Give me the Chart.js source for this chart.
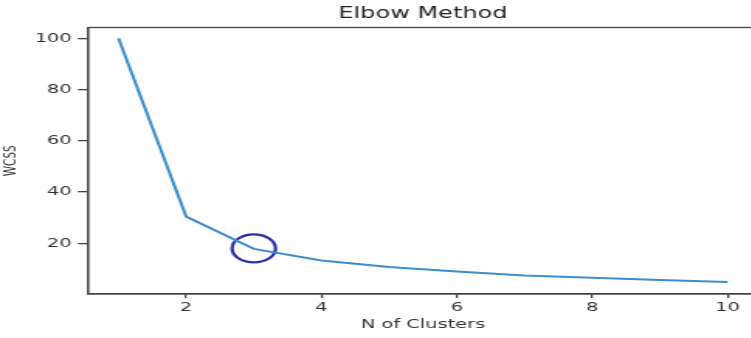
<!DOCTYPE html>
<html>
<head>
<meta charset="utf-8">
<script src="https://cdn.jsdelivr.net/npm/chart.js@4.4.1/dist/chart.umd.min.js"></script>
<style>
  html, body { margin: 0; padding: 0; background: #fff; overflow: hidden; }
  #chart { display: block; }
</style>
</head>
<body>
<canvas id="chart" width="505" height="338" style="width:783px;height:338px"></canvas>
<script>
// number of clusters and the WCSS
const clusters = [1, 2, 3, 4, 5, 6, 7, 8, 9, 10];
const wcss = [100, 30.4, 17.8, 13.3, 10.7, 9.0, 7.4, 6.5, 5.7, 4.9];

// hand-drawn circle marking the elbow
const elbow = [{ x: 3, y: 18 }];

const xTicks = [2, 4, 6, 8, 10];
const yTicks = [20, 40, 60, 80, 100];

// the source picture is stretched sideways, so the canvas is drawn narrow and widened by css
const STRETCH = 1.55;
const W = 505;
const font = 'DejaVu Sans';

const frame = {
  id: 'frame',
  afterDraw(chart) {
    const { ctx, chartArea: a } = chart;
    ctx.save();
    ctx.strokeStyle = '#444';
    ctx.lineWidth = 1.3;
    ctx.strokeRect(a.left, a.top, a.right - a.left, a.bottom - a.top);
    ctx.restore();
  }
};

const canvas = document.getElementById('chart');
const chart = new Chart(canvas.getContext('2d'), {
  type: 'line',
  data: {
    datasets: [
      {
        data: clusters.map((x, i) => ({ x: x, y: wcss[i] })),
        borderColor: '#3b8dcd',
        borderWidth: 2,
        pointRadius: 0,
        tension: 0,
        fill: false
      },
      {
        type: 'scatter',
        data: elbow,
        pointRadius: 14,
        pointBorderWidth: 2.2,
        borderColor: '#2a2fa8',
        backgroundColor: 'rgba(0,0,0,0)'
      }
    ]
  },
  options: {
    responsive: false,
    animation: false,
    devicePixelRatio: 1,
    layout: { padding: { left: 0, right: 0, top: 0, bottom: 0 } },
    plugins: {
      legend: { display: false },
      tooltip: { enabled: false },
      title: {
        display: true,
        fullSize: false,
        text: 'Elbow Method',
        color: '#222',
        font: { family: font, size: 15.5, weight: 'normal' },
        padding: { top: 5, bottom: 3.9 }
      }
    },
    scales: {
      x: {
        type: 'linear',
        min: 0.55,
        max: 10.45,
        afterBuildTicks: s => { s.ticks = xTicks.map(v => ({ value: v })); },
        afterFit: s => { s.height = 44; },
        ticks: { color: '#333', padding: 2.5, font: { family: font, size: 12.5 } },
        grid: { drawOnChartArea: false, tickLength: 4, color: '#444', lineWidth: 1.3 },
        border: { color: '#444', width: 1.3 },
        title: {
          display: true,
          text: 'N of Clusters',
          color: '#333',
          font: { family: font, size: 12.5 },
          padding: { top: 0, bottom: 5.5 }
        }
      },
      y: {
        min: 0.2,
        max: 104.2,
        afterBuildTicks: s => { s.ticks = yTicks.map(v => ({ value: v })); },
        afterFit: s => { s.width = 88 / STRETCH; },
        ticks: { color: '#333', padding: 4, font: { family: font, size: 12.5 } },
        grid: { drawOnChartArea: false, tickLength: 6.5, color: '#444', lineWidth: 1.3 },
        border: { color: '#444', width: 1.3 },
        title: {
          display: true,
          text: 'WCSS',
          color: '#333',
          font: { family: font, size: 10.5 },
          padding: { top: 1, bottom: 0 }
        }
      }
    }
  },
  plugins: [frame]
});

canvas.style.width = Math.round(W * STRETCH) + 'px';
canvas.style.height = '338px';
</script>
</body>
</html>
